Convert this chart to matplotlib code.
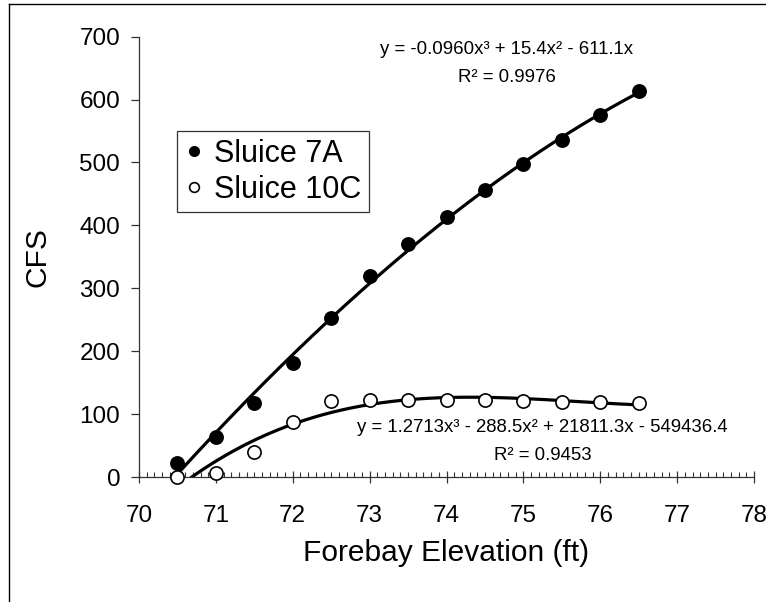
import numpy as np
import matplotlib
matplotlib.use('Agg')
import matplotlib.pyplot as plt
from matplotlib.ticker import MultipleLocator
from matplotlib.lines import Line2D

plt.rcParams['font.family'] = ['Liberation Sans', 'DejaVu Sans']

# ---- data ----
elevation = [70.5, 71.0, 71.5, 72.0, 72.5, 73.0, 73.5, 74.0, 74.5, 75.0, 75.5, 76.0, 76.5]
sluice_7a = [23, 63, 117, 182, 253, 320, 370, 414, 456, 497, 536, 575, 613]
sluice_10c = [0, 7, 40, 87, 121, 123, 123, 123, 122, 121, 120, 119, 117]
series_names = ['Sluice 7A', 'Sluice 10C']
eq_7a = ['y = -0.0960x\u00b3 + 15.4x\u00b2 - 611.1x', 'R\u00b2 = 0.9976']
eq_10c = ['y = 1.2713x\u00b3 - 288.5x\u00b2 + 21811.3x - 549436.4', 'R\u00b2 = 0.9453']
x_ticks = [70, 71, 72, 73, 74, 75, 76, 77, 78]
y_ticks = [0, 100, 200, 300, 400, 500, 600, 700]

W, H = 766, 602
fig = plt.figure(figsize=(W / 100, H / 100), dpi=100)
ax = fig.add_axes([139 / W, 1 - 477 / H, (754 - 139) / W, (477 - 36.7) / H])

x = np.array(elevation)
y7 = np.array(sluice_7a, dtype=float)
y10 = np.array(sluice_10c, dtype=float)

# cubic trendline through origin for 7A
A = np.column_stack([x ** 3, x ** 2, x])
c7, *_ = np.linalg.lstsq(A, y7, rcond=None)
xs = np.linspace(x.min(), x.max(), 400)
fit7 = c7[0] * xs ** 3 + c7[1] * xs ** 2 + c7[2] * xs
# cubic trendline for 10C
p10 = np.polynomial.Polynomial.fit(x, y10, 3)
fit10 = p10(xs)

ax.plot(xs, fit7, color='black', lw=2.3, zorder=2)
ax.plot(xs, fit10, color='black', lw=2.3, zorder=2)
ax.plot(x, y7, 'o', ms=9.5, mfc='black', mec='black', mew=1.2, clip_on=False, zorder=3)
ax.plot(x, y10, 'o', ms=9.5, mfc='white', mec='black', mew=1.2, clip_on=False, zorder=3)

ax.set_xlim(70, 78)
ax.set_ylim(0, 700)
ax.set_xticks(x_ticks)
ax.set_yticks(y_ticks)
ax.xaxis.set_minor_locator(MultipleLocator(0.1))
for s in ['top', 'right']:
    ax.spines[s].set_visible(False)
for s in ['left', 'bottom']:
    ax.spines[s].set_linewidth(0.9)
    ax.spines[s].set_color('#333333')
ax.tick_params(axis='y', which='major', direction='out', length=5.5, width=0.9,
               color='#333333', labelsize=17.5, pad=8)
ax.tick_params(axis='x', which='major', direction='inout', length=9, width=0.9,
               color='#333333', labelsize=17.5, pad=15.5)
ax.tick_params(axis='x', which='minor', direction='in', length=3.6, width=0.8,
               color='#333333')

ax.set_xlabel('Forebay Elevation (ft)', fontsize=21.5, labelpad=9)
ax.set_ylabel('CFS', fontsize=21.5, labelpad=20)

handles = [Line2D([], [], ls='none', marker='o', ms=7, mfc='black', mec='black'),
           Line2D([], [], ls='none', marker='o', ms=7, mfc='white', mec='black', mew=1.2)]
leg = fig.legend(handles, series_names, loc='upper left',
                 bbox_to_anchor=(177 / W, 1 - 131 / H), bbox_transform=fig.transFigure,
                 fontsize=22, frameon=True, fancybox=False, borderaxespad=0,
                 handlelength=0.6, handletextpad=0.35, labelspacing=0.2, borderpad=0.25)
leg.get_frame().set_edgecolor('black')
leg.get_frame().set_linewidth(0.9)

fig.text(507 / W, 1 - 50 / H, eq_7a[0], ha='center', va='center', fontsize=13.4)
fig.text(507 / W, 1 - 77 / H, eq_7a[1], ha='center', va='center', fontsize=13.4)
fig.text(542.5 / W, 1 - 428 / H, eq_10c[0], ha='center', va='center', fontsize=13.4)
fig.text(543 / W, 1 - 455 / H, eq_10c[1], ha='center', va='center', fontsize=13.4)

# outer chart border (left and top edges visible)
fig.add_artist(Line2D([9 / W, 9 / W], [0, 1 - 4 / H], transform=fig.transFigure,
                      color='black', lw=1.0))
fig.add_artist(Line2D([9 / W, 1], [1 - 4 / H, 1 - 4 / H], transform=fig.transFigure,
                      color='black', lw=1.0))

fig.savefig('out.png', dpi=100)
